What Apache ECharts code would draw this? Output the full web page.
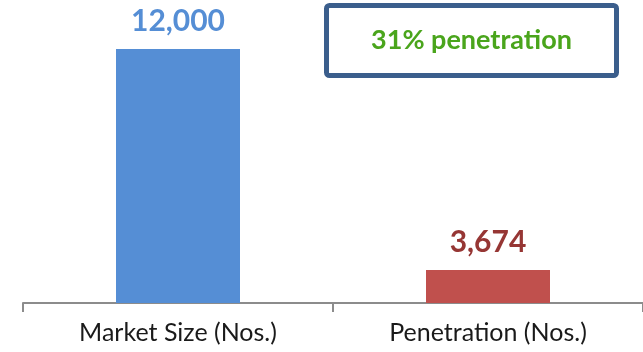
<!DOCTYPE html>
<html>
<head>
<meta charset="utf-8">
<script src="https://cdn.jsdelivr.net/npm/echarts@6/dist/echarts.min.js"></script>
<style>
  html, body { margin: 0; padding: 0; background: #fff; }
  #chart { width: 643px; height: 352px; }
</style>
</head>
<body>
<div id="chart"></div>
<script>
// categories and values
var categories = ['Market Size (Nos.)', 'Penetration (Nos.)'];
// bar heights as drawn (the second bar is not to scale in the original)
var barHeights = [12000, 1560];
var valueLabels = ['12,000', '3,674'];
var barColors = ['#558ed5', '#c0504d'];
var labelColors = ['#558ed5', '#963634'];
var calloutText = '31% penetration';

var font = 'Lato, "Open Sans", sans-serif';

var chart = echarts.init(document.getElementById('chart'), null, { renderer: 'canvas' });
chart.setOption({
  animation: false,
  grid: { left: 23, right: -6, top: 49, bottom: 49 },
  xAxis: {
    type: 'category',
    data: categories,
    axisLine: { lineStyle: { color: '#8c8c8c', width: 2 } },
    axisTick: { show: true, length: 9, lineStyle: { color: '#8c8c8c', width: 2 } },
    axisLabel: { color: '#1a1a1a', fontSize: 25, fontFamily: font, margin: 17 }
  },
  yAxis: {
    type: 'value',
    min: 0,
    max: 12000,
    show: false,
    splitLine: { show: false }
  },
  series: [{
    type: 'bar',
    barWidth: '40%',
    data: barHeights.map(function(v, i) {
      return {
        value: v,
        itemStyle: { color: barColors[i] },
        label: {
          show: true,
          position: 'top',
          distance: 13,
          formatter: valueLabels[i],
          color: labelColors[i],
          fontSize: 30,
          fontWeight: 'bold',
          fontFamily: font
        }
      };
    })
  }],
  graphic: [{
    type: 'group',
    left: 324,
    top: 3,
    children: [{
      type: 'rect',
      shape: { x: 0, y: 0, width: 290, height: 70, r: 3 },
      style: { fill: '#fff', stroke: '#3b5e8c', lineWidth: 5 }
    }, {
      type: 'text',
      x: 145,
      y: 35,
      style: {
        text: calloutText,
        fill: '#4aa51c',
        font: 'bold 27px ' + font,
        align: 'center',
        verticalAlign: 'middle'
      }
    }]
  }]
});
window.addEventListener('resize', function() { chart.resize(); });
</script>
</body>
</html>
